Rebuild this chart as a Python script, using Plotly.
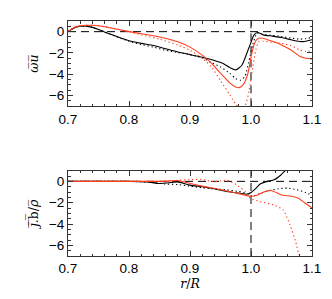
import plotly.graph_objects as go
from plotly.subplots import make_subplots

RED = "rgb(255,60,30)"

# ---------------- top panel (omega u) ----------------
top_black_solid_x = [0.70, 0.71, 0.72, 0.73, 0.74, 0.75, 0.77, 0.80, 0.82, 0.84, 0.86, 0.88, 0.90, 0.92, 0.94, 0.955, 0.965, 0.975, 0.985, 0.993, 1.0, 1.005, 1.011, 1.02, 1.035, 1.05, 1.065, 1.075, 1.085, 1.1]
top_black_solid_y = [0.0, 0.35, 0.5, 0.52, 0.4, 0.2, -0.25, -0.85, -1.1, -1.3, -1.6, -1.9, -2.15, -2.4, -2.7, -3.0, -3.35, -3.58, -3.15, -2.05, -1.0, -0.3, -0.08, -0.3, -0.42, -0.55, -0.75, -0.88, -0.93, -0.75]

top_black_dot_x = [0.70, 0.71, 0.72, 0.73, 0.74, 0.75, 0.77, 0.80, 0.82, 0.84, 0.86, 0.88, 0.90, 0.92, 0.935, 0.95, 0.965, 0.975, 0.983, 0.99, 0.996, 1.003, 1.01, 1.02, 1.035, 1.05, 1.065, 1.08, 1.09, 1.1]
top_black_dot_y = [0.0, 0.35, 0.5, 0.52, 0.4, 0.2, -0.25, -0.9, -1.2, -1.45, -1.75, -1.95, -2.15, -2.45, -2.9, -3.3, -3.9, -4.4, -4.55, -4.2, -2.9, -1.2, -0.15, -0.25, -0.35, -0.45, -0.6, -0.7, -0.65, -0.55]

top_red_solid_x = [0.70, 0.71, 0.72, 0.73, 0.74, 0.75, 0.77, 0.80, 0.82, 0.85, 0.88, 0.90, 0.92, 0.935, 0.95, 0.965, 0.975, 0.981, 0.988, 0.995, 1.0, 1.005, 1.01, 1.016, 1.027, 1.04, 1.05, 1.065, 1.08, 1.09, 1.1]
top_red_solid_y = [0.0, 0.4, 0.55, 0.6, 0.6, 0.55, 0.35, 0.0, -0.2, -0.5, -0.95, -1.45, -2.2, -2.95, -3.9, -4.8, -5.2, -5.25, -4.9, -3.9, -2.4, -1.2, -0.7, -0.6, -0.75, -1.0, -1.25, -1.7, -2.3, -2.5, -2.55]

top_red_dot_x = [0.70, 0.71, 0.72, 0.73, 0.74, 0.75, 0.77, 0.80, 0.82, 0.85, 0.88, 0.90, 0.92, 0.935, 0.95, 0.965, 0.975, 0.982, 0.99, 0.997, 1.003, 1.008, 1.013, 1.02, 1.035, 1.05, 1.065, 1.08, 1.09, 1.1]
top_red_dot_y = [0.0, 0.4, 0.55, 0.6, 0.6, 0.55, 0.35, 0.0, -0.3, -0.7, -1.25, -1.75, -2.5, -3.3, -4.6, -5.9, -6.8, -7.2, -7.0, -5.5, -3.3, -1.7, -0.95, -0.9, -1.0, -1.1, -1.3, -1.7, -1.85, -1.8]

# ---------------- bottom panel (j.b / rho) ----------------
bot_black_solid_x = [0.70, 0.75, 0.80, 0.83, 0.85, 0.87, 0.88, 0.90, 0.92, 0.94, 0.96, 0.98, 0.995, 1.0, 1.008, 1.015, 1.027, 1.038, 1.049, 1.058, 1.065]
bot_black_solid_y = [0.0, 0.0, 0.0, -0.05, -0.2, -0.1, -0.05, -0.35, -0.5, -0.7, -0.95, -1.1, -1.2, -1.05, -0.65, -0.25, 0.0, 0.15, 0.6, 1.1, 1.5]

bot_black_dot_x = [0.70, 0.75, 0.80, 0.84, 0.86, 0.88, 0.90, 0.92, 0.94, 0.96, 0.98, 0.995, 1.002, 1.012, 1.027, 1.045, 1.06, 1.075, 1.09, 1.1]
bot_black_dot_y = [0.0, 0.0, 0.0, -0.1, -0.25, -0.3, -0.45, -0.6, -0.7, -0.8, -0.95, -1.15, -1.4, -1.2, -0.9, -0.7, -0.63, -0.78, -1.05, -1.35]

bot_red_solid_x = [0.70, 0.75, 0.80, 0.85, 0.87, 0.88, 0.90, 0.92, 0.94, 0.96, 0.98, 0.999, 1.01, 1.021, 1.033, 1.049, 1.066, 1.077, 1.088, 1.1]
bot_red_solid_y = [0.0, 0.0, 0.0, 0.0, 0.05, 0.08, -0.2, -0.45, -0.65, -0.9, -1.15, -1.4, -1.3, -1.0, -0.85, -1.25, -1.4, -1.56, -2.0, -2.5]

bot_red_dot_x = [0.70, 0.75, 0.80, 0.85, 0.87, 0.884, 0.90, 0.917, 0.939, 0.961, 0.977, 0.991, 0.999, 1.015, 1.037, 1.053, 1.064, 1.073, 1.078, 1.085]
bot_red_dot_y = [0.0, 0.0, 0.0, 0.0, 0.05, 0.12, 0.15, 0.2, -0.03, 0.1, -0.35, -0.95, -1.6, -1.9, -2.2, -2.7, -4.1, -5.6, -6.75, -7.5]

x_range = [0.7, 1.1]
y_range = [-7, 1]
ref_zero_x = [0.7, 1.1]
ref_zero_y = [0, 0]
ref_r_x = [1.0, 1.0]
ref_r_y = [-7, 1]

x_ticks = [0.7, 0.8, 0.9, 1.0, 1.1]
x_ticklabels = ["0.7", "0.8", "0.9", "1.0", "1.1"]
y_ticks = [0, -2, -4, -6]

fig = make_subplots(rows=2, cols=1, vertical_spacing=0.275)

DOT = "1.3px,2.7px"
series = [
    (1, top_black_solid_x, top_black_solid_y, "black", "solid"),
    (1, top_black_dot_x, top_black_dot_y, "black", DOT),
    (1, top_red_solid_x, top_red_solid_y, RED, "solid"),
    (1, top_red_dot_x, top_red_dot_y, RED, DOT),
    (2, bot_black_solid_x, bot_black_solid_y, "black", "solid"),
    (2, bot_black_dot_x, bot_black_dot_y, "black", DOT),
    (2, bot_red_solid_x, bot_red_solid_y, RED, "solid"),
    (2, bot_red_dot_x, bot_red_dot_y, RED, DOT),
]

for row in (1, 2):
    fig.add_trace(go.Scatter(x=ref_zero_x, y=ref_zero_y, mode="lines",
                             line=dict(color="black", width=1, dash="8px,5px"),
                             showlegend=False, hoverinfo="skip"), row=row, col=1)
    fig.add_trace(go.Scatter(x=ref_r_x, y=ref_r_y, mode="lines",
                             line=dict(color="black", width=1, dash="8px,5px"),
                             showlegend=False, hoverinfo="skip"), row=row, col=1)

for row, xs, ys, col, dash in series:
    fig.add_trace(go.Scatter(x=xs, y=ys, mode="lines",
                             line=dict(color=col, width=1.1, dash=dash, shape="spline", smoothing=0.6),
                             showlegend=False), row=row, col=1)

font = dict(family="Liberation Sans, Arial, sans-serif", size=13.5, color="black")

axis_common = dict(range=x_range, showline=True, linecolor="#333", linewidth=1, mirror="allticks",
                   ticks="inside", ticklen=5, tickcolor="#333", showgrid=False, zeroline=False,
                   tickvals=x_ticks, ticktext=x_ticklabels, tickfont=font,
                   minor=dict(dtick=0.02, tick0=0.7, ticks="inside", ticklen=2.5, tickcolor="#333", showgrid=False))
yaxis_common = dict(range=y_range, showline=True, linecolor="#333", linewidth=1, mirror="allticks",
                    ticks="inside", ticklen=5, tickcolor="#333", showgrid=False, zeroline=False,
                    tickvals=y_ticks, tickfont=font,
                    minor=dict(dtick=0.5, tick0=0, ticks="inside", ticklen=2.5, tickcolor="#333", showgrid=False))

fig.update_xaxes(**axis_common)
fig.update_yaxes(**yaxis_common)

title_font = dict(family="DejaVu Serif, serif", size=12.5, color="black")
fig.update_yaxes(title=dict(text="<i>\u03c9\u0305u\u0305</i>", font=title_font, standoff=7), row=1, col=1)
fig.update_yaxes(title=dict(text="<i>j\u0305</i>.\u0305b\u0305/<i>\u03c1\u0305</i>", font=title_font, standoff=7), row=2, col=1)
fig.update_xaxes(title=dict(text="<i>r</i>/<i>R</i>", font=title_font, standoff=2), row=2, col=1)

fig.update_yaxes(domain=[0.637, 1.0], row=1, col=1)
fig.update_yaxes(domain=[0.0, 0.363], row=2, col=1)

fig.update_layout(width=332, height=299, margin=dict(l=68, r=20, t=21, b=43),
                  plot_bgcolor="white", paper_bgcolor="white", showlegend=False)

fig.write_html("out.html", config={"displayModeBar": False},
               post_script="document.body.style.margin='0';document.body.style.overflow='hidden';")
